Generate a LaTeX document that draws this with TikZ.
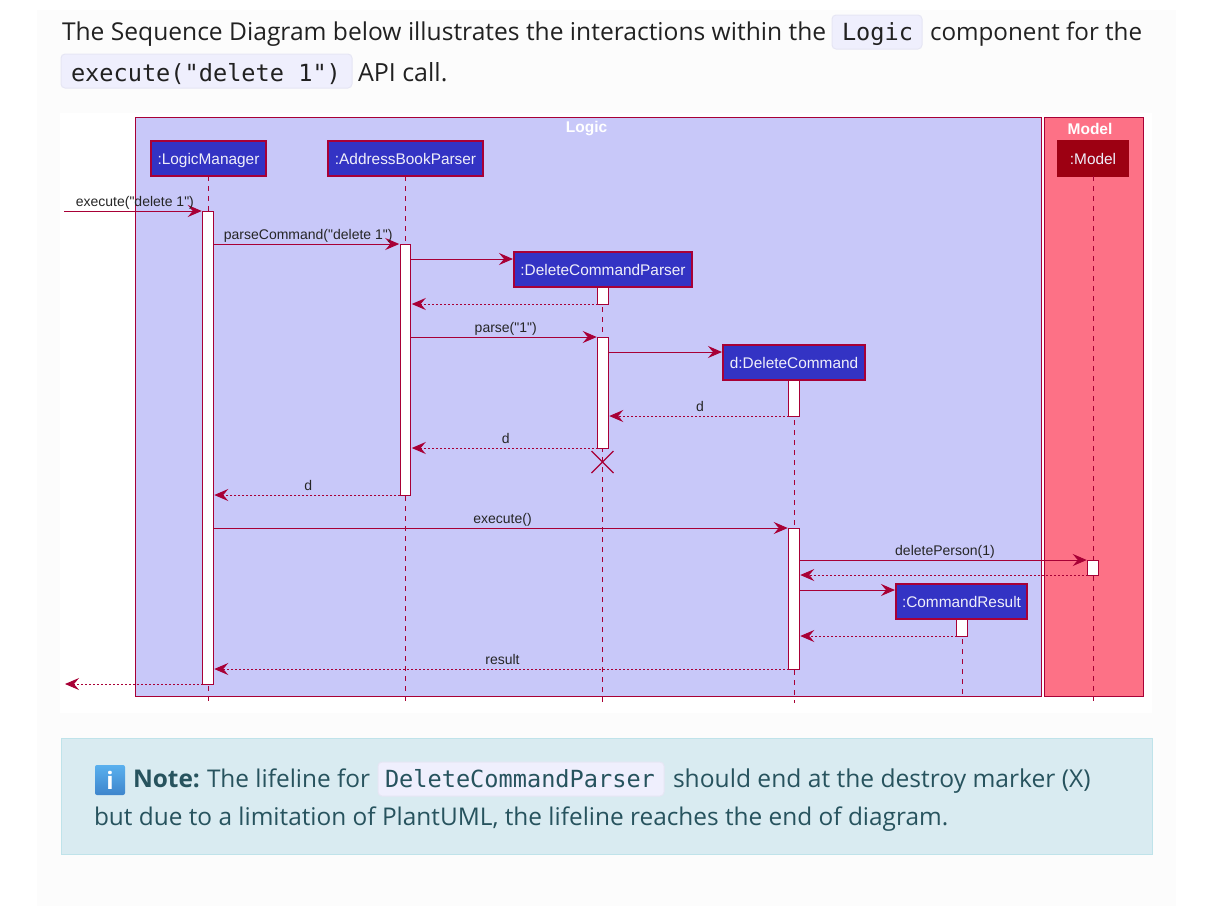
\documentclass[tikz,border=0pt]{standalone}
\usepackage{fontspec}
\setmainfont{Open Sans}
\newfontfamily\codefont{DejaVu Sans Mono}
\newfontfamily\umlfont{Liberation Sans}
\usetikzlibrary{arrows.meta,shapes.misc}
\definecolor{umlred}{HTML}{A80036}
\definecolor{logicfill}{HTML}{C8C8F9}
\definecolor{modelfill}{HTML}{FD7186}
\definecolor{partfill}{HTML}{3333C4}
\definecolor{modelpart}{HTML}{9D0012}
\definecolor{pagefill}{HTML}{FCFCFC}
\definecolor{chipfill}{HTML}{EFEFFD}
\definecolor{chipline}{HTML}{E6E6F4}
\definecolor{notefill}{HTML}{D9EBF1}
\definecolor{noteline}{HTML}{BFE3EA}
\definecolor{notetext}{HTML}{27535E}
\definecolor{icontop}{HTML}{5AB0EE}
\definecolor{iconbottom}{HTML}{3E85CC}
\tikzset{
  every node/.style={inner sep=0,outer sep=0},
  frame/.style={draw=umlred,line width=1pt},
  title/.style={text=white,font=\umlfont\bfseries\fontsize{15.5}{16}\selectfont},
  part/.style={draw=umlred,line width=1.4pt,fill=partfill,text=white!92!partfill,minimum height=35pt,text height=14pt,text depth=3pt,font=\umlfont\fontsize{15.4}{16}\selectfont},
  life/.style={draw=umlred,line width=1pt,dash pattern=on 5pt off 5pt},
  activation/.style={draw=umlred,line width=1pt,fill=white,minimum width=10.5pt,anchor=north},
  msg/.style={draw=umlred,line width=1pt,-{Stealth[length=14pt,width=12pt,inset=5pt]},shorten >=1pt},
  reply/.style={msg,dash pattern=on 2pt off 2pt},
  msgtext/.style={above=2pt,xshift=1.5pt,text=black!85,text height=10pt,text depth=3pt,font=\umlfont\fontsize{14}{14}\selectfont},
  body/.style={anchor=base west,text=black!87,font=\fontsize{24.4}{26}\selectfont},
  notebody/.style={body,text=notetext},
  chip/.style={draw=chipline,line width=1pt,fill=chipfill,rounded corners=4pt},
  code/.style={anchor=base west,font=\codefont\fontsize{23.6}{26}\selectfont}
}
\begin{document}
\begin{tikzpicture}[x=1pt,y=-1pt]
  \useasboundingbox (0,0) rectangle (1212,906);
  %PAGE
  \fill[pagefill] (37,10) rectangle (1176,906);
  \fill[white] (60,113) rectangle (1152,713);
  %TEXT ABOVE
  \node[body,font=\fontsize{24.6}{26}\selectfont] (introA) at (62,40) {The Sequence Diagram below illustrates the interactions within the};
  \draw[chip] (832,15) rectangle (922,49);
  \node[code,text=black!87] (codeLogic) at (842,40) {Logic};
  \node[body,font=\fontsize{24.2}{26}\selectfont] (introB) at (930,40) {component for the};
  \draw[chip] (61,54) rectangle (352,88);
  \node[code,text=black!87] (codeExec) at (71,81) {execute("delete 1")};
  \node[body,font=\fontsize{25}{26}\selectfont] (introC) at (358,81) {API call.};
  %FRAMES
  \draw[frame,fill=logicfill] (135.5,117.5) rectangle (1041,696.5);
  \draw[frame,fill=modelfill] (1044,117.5) rectangle (1143,696.5);
  \node[title] (logicTitle) at (586.5,129) {Logic};
  \node[title] (modelTitle) at (1090,128.5) {Model};
  %PARTICIPANTS
  \node[part,minimum width=115pt] (hdrLM) at (208.5,158.5) {:LogicManager};
  \node[part,minimum width=155pt] (hdrABP) at (405.5,158.5) {:AddressBookParser};
  \node[part,minimum width=70pt,draw=modelpart,fill=modelpart] (hdrM) at (1093,158.5) {:Model};
  \coordinate (lifeEnd) at (0,703);
  \coordinate (bottomDCP) at (602.5,703);
  \coordinate (bottomDC) at (794,703);
  \coordinate (bottomCR) at (962,696);
  %LIFELINES
  \draw[life] (hdrLM.south) -- (hdrLM.south |- lifeEnd);
  \draw[life] (hdrABP.south) -- (hdrABP.south |- lifeEnd);
  \draw[life] (hdrM.south) -- (hdrM.south |- lifeEnd);
  \draw[life] (602.5,287) -- (bottomDCP);
  \draw[life] (794,380) -- (bottomDC);
  \draw[life] (962,619) -- (bottomCR);
  %CREATED PARTICIPANTS
  \node[part,minimum width=178pt] (hdrDCP) at (603,269.5) {:DeleteCommandParser};
  \node[part,minimum width=142pt] (hdrDC) at (794,362.5) {d:DeleteCommand};
  \node[part,minimum width=131pt] (hdrCR) at (961.5,601.5) {:CommandResult};
  %ACTIVATIONS
  \node[activation,minimum height=473pt] (barLM) at (208,211) {};
  \node[activation,minimum height=251pt] (barABP) at (405.5,244) {};
  \node[activation,minimum height=17pt] (barDCPa) at (603,287) {};
  \node[activation,minimum height=111pt] (barDCPb) at (603,337) {};
  \node[activation,minimum height=36pt] (barDCa) at (794,380) {};
  \node[activation,minimum height=141pt] (barDCb) at (794,528) {};
  \node[activation,minimum height=15pt] (barM) at (1093,560) {};
  \node[activation,minimum height=17pt] (barCR) at (962,619) {};
  \node[draw=umlred,line width=1.2pt,cross out,minimum size=22pt] (destroyDCP) at (602.5,462) {};
  %MESSAGES
  \coordinate (callIn) at (64,211);
  \coordinate (callOut) at (64,684);
  \coordinate (newDCP) at ([yshift=10.5pt]hdrDCP.west);
  \coordinate (newDC) at ([yshift=10.5pt]hdrDC.west);
  \coordinate (newCR) at ([yshift=11.5pt]hdrCR.west);
  \draw[msg] (callIn) -- node[msgtext] (txtExec) {execute("delete 1")} (callIn -| barLM.west);
  \draw[msg] (barLM.east |- barABP.north) -- node[msgtext] (txtParseCmd) {parseCommand("delete 1")} (barABP.north west);
  \draw[msg] (barABP.east |- newDCP) -- (newDCP);
  \draw[reply] (barDCPa.south west) -- (barDCPa.south west -| barABP.east);
  \draw[msg] (barABP.east |- barDCPb.north) -- node[msgtext] (txtParse) {parse("1")} (barDCPb.north west);
  \draw[msg] (barDCPb.east |- newDC) -- (newDC);
  \draw[reply] (barDCa.south west) -- node[msgtext] (txtRetA) {d} (barDCa.south west -| barDCPb.east);
  \draw[reply] (barDCPb.south west) -- node[msgtext] (txtRetB) {d} (barDCPb.south west -| barABP.east);
  \draw[reply] (barABP.south west) -- node[msgtext] (txtRetC) {d} (barABP.south west -| barLM.east);
  \draw[msg] (barLM.east |- barDCb.north) -- node[msgtext] (txtExecute) {execute()} (barDCb.north west);
  \draw[msg] (barDCb.east |- barM.north) -- node[msgtext] (txtDelete) {deletePerson(1)} (barM.north west);
  \draw[reply] (barM.south west) -- (barM.south west -| barDCb.east);
  \draw[msg] (barDCb.east |- newCR) -- (newCR);
  \draw[reply] (barCR.south west) -- (barCR.south west -| barDCb.east);
  \draw[reply] (barDCb.south west) -- node[msgtext] (txtResult) {result} (barDCb.south west -| barLM.east);
  \draw[reply] (barLM.south west) -- (callOut);
  %NOTE
  \draw[draw=noteline,line width=1pt,fill=notefill] (61,738) rectangle (1152,854);
  \shade[top color=icontop,bottom color=iconbottom,rounded corners=2pt] (95,765) rectangle (125,795);
  \node[text=white,font=\bfseries\fontsize{24}{24}\selectfont] (noteIcon) at (110,780) {i};
  \node[notebody,font=\bfseries\fontsize{24.4}{26}\selectfont] (noteHead) at (133,787) {Note:};
  \node[notebody] (noteA) at (207,787) {The lifeline for};
  \draw[chip] (378,762) rectangle (664,796);
  \node[code,text=notetext] (codeParser) at (385,787) {DeleteCommandParser};
  \node[notebody,font=\fontsize{24.6}{26}\selectfont] (noteB) at (673,787) {should end at the destroy marker (X)};
  \node[notebody] (noteC) at (94,825) {but due to a limitation of PlantUML, the lifeline reaches the end of diagram.};
\end{tikzpicture}
\end{document}
